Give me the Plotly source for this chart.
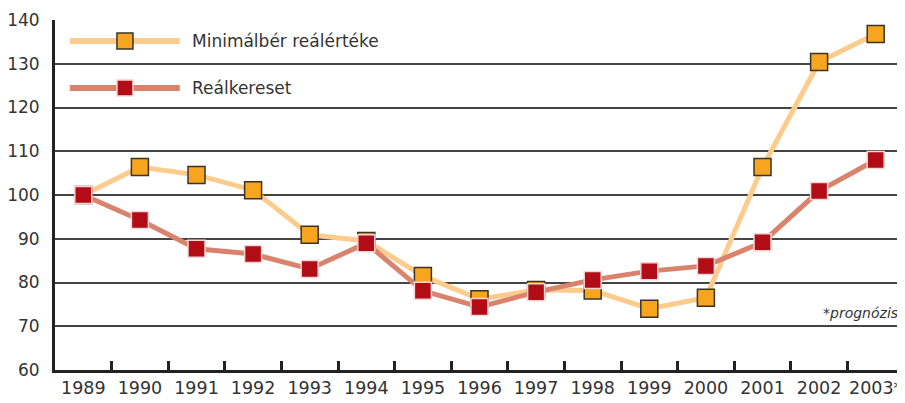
import plotly.graph_objects as go

years = ["1989", "1990", "1991", "1992", "1993", "1994", "1995", "1996",
         "1997", "1998", "1999", "2000", "2001", "2002", "2003*"]
minimalber = [100, 106.4, 104.6, 101.1, 90.9, 89.5, 81.5, 76.2,
              78.3, 78.2, 74.0, 76.5, 106.4, 130.4, 136.8]
realkereset = [100, 94.3, 87.7, 86.5, 83.1, 89.0, 78.1, 74.4,
               77.8, 80.6, 82.6, 83.8, 89.2, 100.9, 108.0]
series_names = ["Minimálbér reálértéke", "Reálkereset"]
y_ticks = [60, 70, 80, 90, 100, 110, 120, 130, 140]

LINE1, MARK1, EDGE1 = "#FDCC8C", "#F7A51E", "#3a3328"
LINE2, MARK2, EDGE2 = "#D9836C", "#B20D17", "#F3D6D6"
TXT = "#333333"
FONT = "DejaVu Sans"

fig = go.Figure()
fig.add_trace(go.Scatter(
    x=years, y=minimalber, mode="lines+markers", name=series_names[0],
    line=dict(color=LINE1, width=5),
    marker=dict(symbol="square", size=17, color=MARK1, line=dict(color=EDGE1, width=1.5)),
    showlegend=False, cliponaxis=False))
fig.add_trace(go.Scatter(
    x=years, y=realkereset, mode="lines+markers", name=series_names[1],
    line=dict(color=LINE2, width=5),
    marker=dict(symbol="square", size=17, color=MARK2, line=dict(color=EDGE2, width=1.5)),
    showlegend=False, cliponaxis=False))

# manual legend
legend_items = [(0.94, LINE1, MARK1, EDGE1, series_names[0]),
                (0.806, LINE2, MARK2, EDGE2, series_names[1])]
shapes = []
annotations = []
for yy, lc, mc, ec, name in legend_items:
    shapes.append(dict(type="line", xref="paper", yref="paper",
                       x0=0.0176, x1=0.147, y0=yy, y1=yy,
                       line=dict(color=lc, width=6)))
    shapes.append(dict(type="rect", xref="paper", yref="paper",
                       xsizemode="pixel", ysizemode="pixel",
                       xanchor=0.0824, yanchor=yy, x0=-8, x1=8, y0=-8, y1=8,
                       fillcolor=mc, line=dict(color=ec, width=1.5)))
    annotations.append(dict(xref="paper", yref="paper", x=0.159, y=yy,
                            xanchor="left", yanchor="middle", text=name,
                            showarrow=False, font=dict(size=17, color=TXT, family=FONT)))
annotations.append(dict(xref="paper", yref="paper", x=0.995, y=0.163,
                        xanchor="right", yanchor="middle", text="<i>*prognózis</i>",
                        showarrow=False, font=dict(size=14, color=TXT, family=FONT)))

fig.update_layout(
    width=897, height=395,
    margin=dict(l=47, r=1, t=12, b=33, autoexpand=False),
    paper_bgcolor="white", plot_bgcolor="white",
    font=dict(family=FONT, color=TXT, size=17),
    shapes=shapes, annotations=annotations,
)
fig.update_xaxes(
    type="category", tickson="boundaries", ticks="inside", ticklen=9,
    tickwidth=2.5, tickcolor="#222222", tickangle=0, automargin=False,
    showline=True, linecolor="#222222", linewidth=3,
    showgrid=False, tickfont=dict(size=17.5, color=TXT),
    range=[-0.5, 14.5])
fig.update_yaxes(
    range=[60, 140], tickvals=y_ticks, showgrid=True, gridcolor="#444444",
    gridwidth=1.5, showline=True, linecolor="#222222", linewidth=3,
    ticks="", ticklabelstandoff=9, tickfont=dict(size=17, color=TXT),
    zeroline=False, automargin=False)

fig.write_html("out.html")
